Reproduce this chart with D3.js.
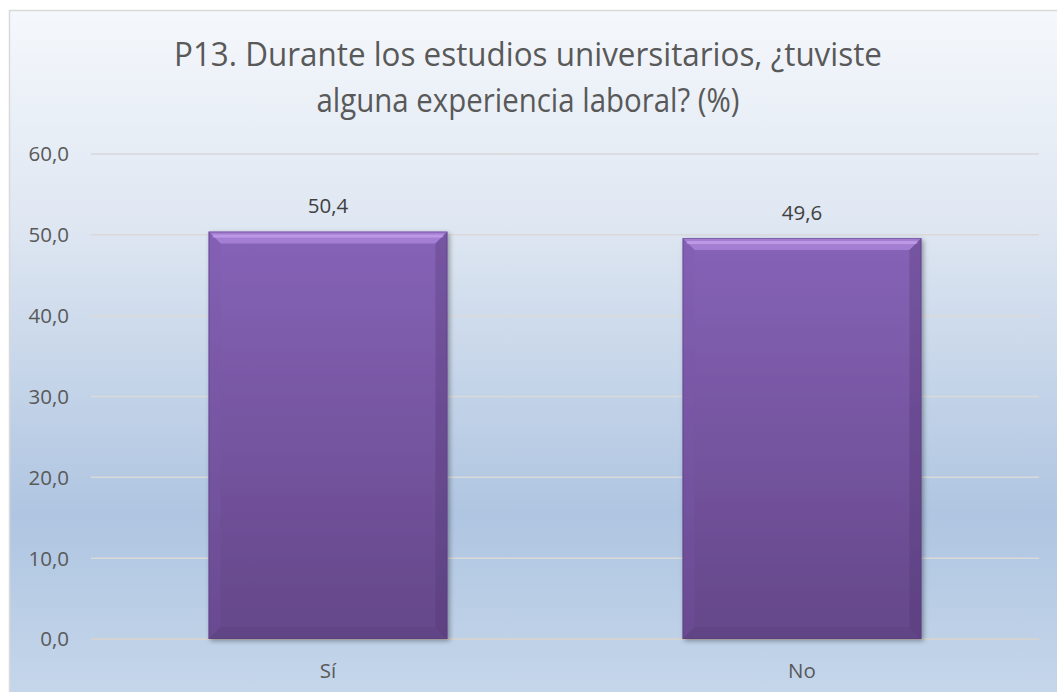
<!DOCTYPE html>
<html><head><meta charset="utf-8">
<script src="https://cdn.jsdelivr.net/npm/d3@7"></script>
<style>body{margin:0;background:#fff}svg{display:block}</style>
</head><body>
<svg id="c" width="1057" height="692"></svg>
<script>
const categories = ["Sí", "No"];
const values = [50.4, 49.6];
const yTicks = [0, 10, 20, 30, 40, 50, 60];
const titleLines = ["P13. Durante los estudios universitarios, ¿tuviste", "alguna experiencia laboral? (%)"];

(function(){
const svg = d3.select("#c");
const defs = svg.append("defs");
const bg = defs.append("linearGradient").attr("id","bg").attr("x1",0).attr("y1",0).attr("x2",0).attr("y2",1);
[["0%","#f5f8fc"],["30%","#dfe7f2"],["72%","#afc5e1"],["100%","#c7d8eb"]].forEach(s=>bg.append("stop").attr("offset",s[0]).attr("stop-color",s[1]));
const bar = defs.append("linearGradient").attr("id","bar").attr("x1",0).attr("y1",0).attr("x2",0).attr("y2",1);
[["0%","#8663b7"],["100%","#644789"]].forEach(s=>bar.append("stop").attr("offset",s[0]).attr("stop-color",s[1]));
const shadow = defs.append("filter").attr("id","sh").attr("x","-10%").attr("y","-10%").attr("width","130%").attr("height","130%");
shadow.append("feGaussianBlur").attr("in","SourceAlpha").attr("stdDeviation",2.5);
shadow.append("feOffset").attr("dx",2).attr("dy",2).attr("result","b");
const ct = shadow.append("feComponentTransfer"); ct.append("feFuncA").attr("type","linear").attr("slope",0.35);
const m = shadow.append("feMerge"); m.append("feMergeNode"); m.append("feMergeNode").attr("in","SourceGraphic");

svg.append("rect").attr("x",9.5).attr("y",10.5).attr("width",1060).attr("height",700)
  .attr("fill","url(#bg)").attr("stroke","#d9d9d9").attr("stroke-width",1.5);

const pLeft = 91, pRight = 1039, pTop = 154, pBottom = 639;
const x = d3.scaleBand().domain(categories).range([pLeft,pRight]).paddingInner(0.496).paddingOuter(0.248);
const y = d3.scaleLinear().domain([0,60]).range([pBottom,pTop]);

svg.append("g").selectAll("line").data(yTicks).join("line")
  .attr("x1",pLeft).attr("x2",pRight).attr("y1",d=>y(d)).attr("y2",d=>y(d))
  .attr("stroke", d=> d===0 ? "#d3d3d3" : "#d9d9d9").attr("stroke-width",d=>d===0?2:1.5);

svg.append("g").selectAll("text").data(yTicks).join("text")
  .attr("x",69).attr("y",d=>y(d)).attr("dy","0.36em").attr("text-anchor","end")
  .attr("font-family","'Open Sans', sans-serif").attr("font-size",20.5).attr("fill","#595959")
  .text(d=>d3.format(".1f")(d).replace(".",","));

const g = svg.append("g");
categories.forEach((c,i)=>{
  const x0 = x(c), w = x.bandwidth(), y0 = y(values[i]), y1 = y(0), h = y1-y0;
  const bg2 = g.append("g").attr("filter","url(#sh)");
  bg2.append("rect").attr("x",x0).attr("y",y0).attr("width",w).attr("height",h).attr("fill","url(#bar)");
  const b = 12;
  bg2.append("path").attr("d",`M${x0},${y0}H${x0+w}L${x0+w-b},${y0+b}H${x0+b}Z`).attr("fill","#b08ade").attr("opacity",0.7);
  bg2.append("rect").attr("x",x0+4).attr("y",y0+3).attr("width",w-8).attr("height",3).attr("fill","#cfaaf5").attr("opacity",0.6);
  bg2.append("path").attr("d",`M${x0},${y0}L${x0+b},${y0+b}V${y1-b}L${x0},${y1}Z`).attr("fill","#7a58ad").attr("opacity",0.25);
  bg2.append("path").attr("d",`M${x0+w},${y0}L${x0+w-b},${y0+b}V${y1-b}L${x0+w},${y1}Z`).attr("fill","#4e3670").attr("opacity",0.3);
  bg2.append("path").attr("d",`M${x0},${y1}L${x0+b},${y1-b}H${x0+w-b}L${x0+w},${y1}Z`).attr("fill","#4e3670").attr("opacity",0.15);
  bg2.append("rect").attr("x",x0+0.5).attr("y",y0+0.5).attr("width",w-1).attr("height",h-1).attr("fill","none").attr("stroke","#5a3f80").attr("stroke-opacity",0.5);
});

svg.append("g").selectAll("text").data(categories).join("text")
  .attr("x",d=>x(d)+x.bandwidth()/2).attr("y",(d,i)=>y(values[i])-18.5).attr("text-anchor","middle")
  .attr("font-family","'Open Sans', sans-serif").attr("font-size",20.5).attr("fill","#404040")
  .text((d,i)=>d3.format(".1f")(values[i]).replace(".",","));

svg.append("g").selectAll("text").data(categories).join("text")
  .attr("x",d=>x(d)+x.bandwidth()/2).attr("y",678).attr("text-anchor","middle")
  .attr("font-family","'Open Sans', sans-serif").attr("font-size",20.5).attr("fill","#595959")
  .text(d=>d);

const tl = [708, 423];
svg.append("g").selectAll("text").data(titleLines).join("text")
  .attr("x",528).attr("y",(d,i)=>66+i*46).attr("text-anchor","middle")
  .attr("font-family","'Open Sans', sans-serif").attr("font-size",33.5).attr("fill","#595959")
  .attr("textLength",(d,i)=>tl[i]).attr("lengthAdjust","spacingAndGlyphs")
  .text(d=>d);
})();
</script>
</body></html>
